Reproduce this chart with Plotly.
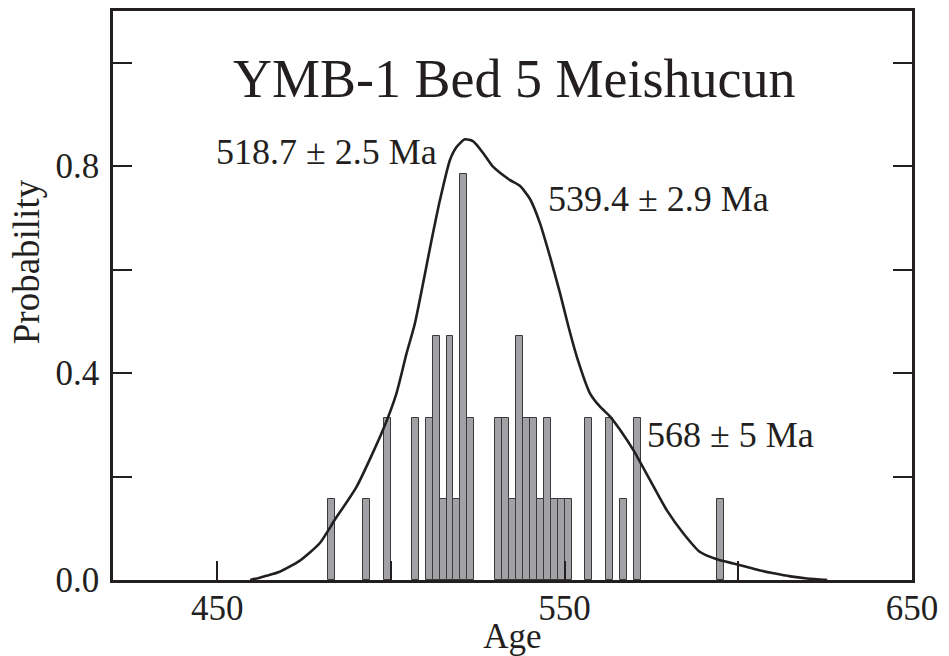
import plotly.graph_objects as go

# ---- data ----
bin_centers = [483, 493, 499, 507, 511, 513, 515, 517, 519, 521, 523,
               531, 533, 535, 537, 539, 541, 543, 545, 547, 549, 551,
               557, 563, 567, 571, 595]
bar_heights = [0.157, 0.157, 0.313, 0.313, 0.313, 0.471, 0.157, 0.471, 0.157, 0.785, 0.313,
               0.313, 0.313, 0.157, 0.471, 0.313, 0.313, 0.157, 0.313, 0.157, 0.157, 0.157,
               0.313, 0.313, 0.157, 0.313, 0.157]
bin_width = 2

curve_age = [459.5, 462, 464.1, 468, 473.7, 479.5, 483.8, 490.1, 497.7, 501.6, 504.5,
             506.9, 511.7, 514.1, 517, 518.9, 521.3, 523.7, 526.6, 529.4, 534.3,
             537.1, 540, 542.9, 545.8, 548.7, 551.1, 553.5, 557.3, 560.2, 563.1,
             566, 569.8, 574.6, 579.4, 584.2, 589, 593.8, 598.6, 602, 606, 610.2,
             615, 619.8, 625.6]
curve_prob = [0.0, 0.004, 0.008, 0.016, 0.037, 0.071, 0.116, 0.18, 0.29, 0.361, 0.438,
              0.496, 0.657, 0.734, 0.812, 0.837, 0.852, 0.848, 0.825, 0.799, 0.773,
              0.762, 0.737, 0.69, 0.625, 0.554, 0.49, 0.432, 0.361, 0.335, 0.316,
              0.29, 0.251, 0.193, 0.135, 0.09, 0.054, 0.040, 0.032, 0.026, 0.019, 0.013,
              0.007, 0.003, 0.0]

x_tickvals = [450, 500, 550, 600, 650]
x_ticktext = ["450", "", "550", "", "650"]
y_tickvals = [0.0, 0.2, 0.4, 0.6, 0.8, 1.0]
y_ticktext = ["0.0", "", "0.4", "", "0.8", ""]

title_text = "YMB-1 Bed 5 Meishucun"
peak_labels = ["518.7 \u00b1 2.5 Ma", "539.4 \u00b1 2.9 Ma", "568 \u00b1 5 Ma"]
peak_label_x = [449.0, 544.6, 573.0]
peak_label_y = [0.827, 0.736, 0.280]

FONT = "Liberation Serif, Times New Roman, serif"
INK = "#231f20"

fig = go.Figure()
fig.add_trace(go.Scatter(x=curve_age, y=curve_prob, mode="lines",
                         line=dict(color=INK, width=2.6, shape="spline", smoothing=0.6),
                         hoverinfo="skip", showlegend=False))
fig.add_trace(go.Bar(x=bin_centers, y=bar_heights, width=bin_width,
                     marker=dict(color="#a2a2a6", line=dict(color="#3a3a3a", width=1)),
                     showlegend=False))

for txt, xv, yv in zip(peak_labels, peak_label_x, peak_label_y):
    fig.add_annotation(x=xv, y=yv, xref="x", yref="y", text=txt, showarrow=False,
                       xanchor="left", yanchor="middle",
                       font=dict(family=FONT, size=36, color=INK))

fig.add_annotation(x=535.5, y=0.968, xref="x", yref="y", text=title_text, showarrow=False,
                   xanchor="center", yanchor="middle",
                   font=dict(family=FONT, size=54, color=INK))

fig.add_annotation(x=-0.109, y=0.56, xref="paper", yref="paper", text="Probability",
                   showarrow=False, textangle=-90, xanchor="center", yanchor="middle",
                   font=dict(family=FONT, size=37, color=INK))

fig.update_layout(
    width=949, height=656,
    margin=dict(l=113, r=37, t=11, b=76, autoexpand=False),
    paper_bgcolor="white", plot_bgcolor="white",
    bargap=0,
    font=dict(family=FONT, size=35, color=INK),
    xaxis=dict(range=[420, 650], tickvals=x_tickvals, ticktext=x_ticktext,
               ticks="inside", ticklen=19, tickwidth=2, tickcolor=INK,
               showline=True, linecolor=INK, linewidth=2.5, mirror=True,
               showgrid=False, zeroline=False, ticklabelstandoff=-5, automargin=False,
               title=dict(text="Age", standoff=3, font=dict(family=FONT, size=35, color=INK))),
    yaxis=dict(range=[0, 1.1], tickvals=y_tickvals, ticktext=y_ticktext,
               ticks="inside", ticklen=19, tickwidth=2, tickcolor=INK,
               showline=True, linecolor=INK, linewidth=2.5, mirror="ticks",
               showgrid=False, zeroline=False, ticklabelstandoff=4, automargin=False),
)

fig.write_html("out.html", config={"displayModeBar": False},
               post_script="document.body.style.margin='0';")
